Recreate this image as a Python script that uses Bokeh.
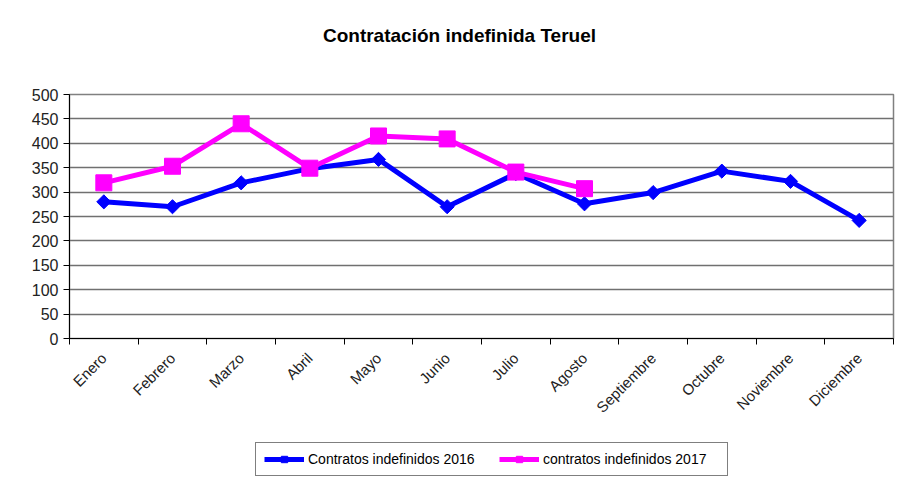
import numpy as np
from bokeh.plotting import figure
from bokeh.layouts import column
from bokeh.models import (FactorRange, Range1d, LinearAxis, CategoricalAxis, FixedTicker,
                          Legend, LegendItem, ColumnDataSource, CustomJSTickFormatter, Label)
from bokeh.embed import file_html
from bokeh.resources import INLINE

# ---- data ----
months = ["Enero", "Febrero", "Marzo", "Abril", "Mayo", "Junio", "Julio", "Agosto",
          "Septiembre", "Octubre", "Noviembre", "Diciembre"]
contratos_2016 = [280, 270, 319, 348, 367, 270, 338, 276, 299, 343, 322, 242]
months_2017 = months[:8]
contratos_2017 = [319, 353, 440, 349, 415, 409, 341, 307]
y_ticks = [0, 50, 100, 150, 200, 250, 300, 350, 400, 450, 500]
title_text = "Contratación indefinida Teruel"
label_2016 = "Contratos indefinidos 2016"
label_2017 = "contratos indefinidos 2017"

FONT = "Liberation Sans"
BLUE = "#0000FF"
MAGENTA = "#FF00FF"


def bare(fig):
    fig.outline_line_color = None
    fig.xgrid.visible = False
    fig.ygrid.visible = False
    fig.background_fill_color = "white"
    fig.border_fill_color = "white"


# ---- title strip ----
tt = figure(width=901, height=60, x_range=Range1d(69, 893), y_range=Range1d(0, 60),
            output_backend="svg", toolbar_location=None,
            x_axis_location=None, y_axis_location=None,
            min_border_left=69, min_border_right=8, min_border_top=0, min_border_bottom=0)
bare(tt)
tt.add_layout(Label(x=459, y=25, text=title_text, text_align="center",
                    text_baseline="middle", text_font=FONT, text_font_size="19px",
                    text_font_style="bold", text_color="black"))

# ---- main chart ----
p = figure(width=901, height=370,
           x_range=FactorRange(*months, range_padding=0),
           y_range=Range1d(0, 500),
           output_backend="svg", toolbar_location=None,
           x_axis_location=None, y_axis_location="left",
           min_border_left=69, min_border_right=8,
           min_border_top=34, min_border_bottom=92)

p.background_fill_color = "white"
p.border_fill_color = "white"
p.outline_line_color = "#808080"
p.outline_line_width = 1.5

# y axis
p.yaxis.ticker = FixedTicker(ticks=y_ticks)
p.yaxis.major_label_text_font = FONT
p.yaxis.major_label_text_font_size = "16px"
p.yaxis.major_label_text_color = "#222222"
p.yaxis.major_tick_out = 6
p.yaxis.major_tick_in = 0
p.yaxis.minor_tick_line_color = None
p.yaxis.axis_line_color = "black"
p.yaxis.major_tick_line_color = "black"
p.yaxis.major_label_standoff = 5

p.ygrid.ticker = FixedTicker(ticks=y_ticks)
p.ygrid.grid_line_color = "#707070"
p.ygrid.grid_line_width = 1.5
p.xgrid.visible = False

# x axis: tick marks on the category boundaries (synthetic coordinates 0..12)
edge_axis = LinearAxis(ticker=FixedTicker(ticks=list(range(len(months) + 1))),
                       formatter=CustomJSTickFormatter(code="return ''"),
                       major_label_text_font_size="1px", major_label_standoff=0,
                       major_tick_out=6, major_tick_in=0,
                       minor_tick_line_color=None, axis_line_color="black",
                       major_tick_line_color="black")
p.add_layout(edge_axis, "below")

cat_axis = CategoricalAxis(axis_line_color=None, major_tick_line_color=None,
                           major_tick_out=0, major_tick_in=0,
                           major_label_orientation=np.pi / 4,
                           major_label_text_font=FONT,
                           major_label_text_font_size="15px",
                           major_label_text_color="#222222",
                           major_label_standoff=11)
p.add_layout(cat_axis, "below")

# series
src16 = ColumnDataSource(dict(m=months, v=contratos_2016))
src17 = ColumnDataSource(dict(m=months_2017, v=contratos_2017))

p.line("m", "v", source=src16, line_color=BLUE, line_width=5)
p.scatter("m", "v", source=src16, marker="square", angle=np.pi / 4, size=10,
          fill_color=BLUE, line_color=BLUE)
p.line("m", "v", source=src17, line_color=MAGENTA, line_width=5)
p.scatter("m", "v", source=src17, marker="square", size=16,
          fill_color=MAGENTA, line_color=MAGENTA)

# ---- legend strip (same series, y range chosen so only the legend shows) ----
lg = figure(width=901, height=55, x_range=FactorRange(*months, range_padding=0),
            y_range=Range1d(-2, -1),
            output_backend="svg", toolbar_location=None,
            x_axis_location=None, y_axis_location=None,
            min_border_left=69, min_border_right=8, min_border_top=0, min_border_bottom=0)
bare(lg)
l1 = lg.line("m", "v", source=src16, line_color=BLUE, line_width=5)
m1 = lg.scatter("m", "v", source=src16, marker="square", angle=np.pi / 4, size=10,
                fill_color=BLUE, line_color=BLUE)
l2 = lg.line("m", "v", source=src17, line_color=MAGENTA, line_width=5)
m2 = lg.scatter("m", "v", source=src17, marker="square", size=16,
                fill_color=MAGENTA, line_color=MAGENTA)

legend = Legend(items=[LegendItem(label=label_2016, renderers=[l1, m1]),
                       LegendItem(label=label_2017, renderers=[l2, m2])],
                orientation="horizontal", location=(186, 9),
                label_text_font=FONT, label_text_font_size="14px",
                label_text_color="black",
                glyph_width=40, glyph_height=16, padding=8, spacing=15,
                label_standoff=4, label_width=176,
                border_line_color="black", border_line_width=1,
                background_fill_color="white", margin=0)
lg.add_layout(legend, "center")

layout = column(tt, p, lg, spacing=0)
open("out.html", "w").write(file_html(layout, INLINE))
